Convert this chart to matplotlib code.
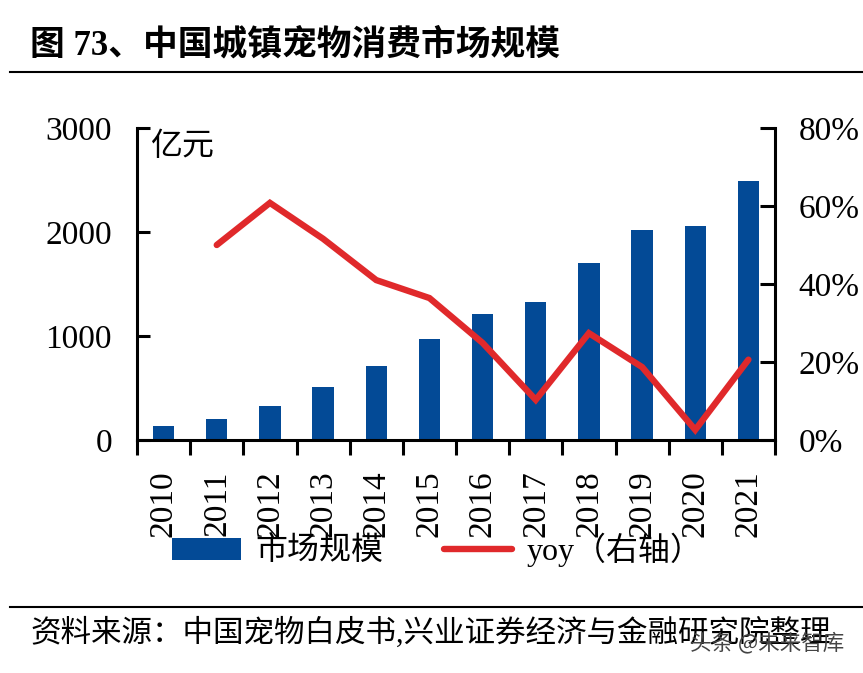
import matplotlib
matplotlib.use("Agg")
import matplotlib.pyplot as plt
from matplotlib.ticker import FuncFormatter, FixedLocator

years = ["2010", "2011", "2012", "2013", "2014", "2015",
         "2016", "2017", "2018", "2019", "2020", "2021"]
market = [135, 205, 327, 505, 712, 971, 1212, 1330, 1702, 2019, 2058, 2490]
yoy = [None, 50.0, 60.8, 51.6, 41.0, 36.4, 24.9, 10.3, 27.4, 18.7, 2.6, 20.6]

left_ticks = [0, 1000, 2000, 3000]
right_ticks = [0, 20, 40, 60, 80]

title = "图 73、中国城镇宠物消费市场规模"
source = "资料来源：中国宠物白皮书,兴业证券经济与金融研究院整理"
unit = "亿元"
bar_label = "市场规模"
line_label = "yoy（右轴）"
watermark = "头条 @未来智库"

MIX = ["Liberation Serif", "Noto Sans CJK SC"]
CJK = ["Noto Sans CJK SC", "DejaVu Sans"]
plt.rcParams["font.family"] = MIX

BLUE = "#034A96"
RED = "#E0292B"

fig = plt.figure(figsize=(8.63, 6.73), dpi=100)
ax = fig.add_axes([137 / 863, 1 - 440 / 673, (775 - 137) / 863, (440 - 128) / 673])
ax2 = ax.twinx()

x = list(range(len(years)))
bars = ax.bar(x, market, width=0.4, color=BLUE, label=bar_label, zorder=2)
xs = [xi for xi, v in zip(x, yoy) if v is not None]
ys = [v for v in yoy if v is not None]
line, = ax2.plot(xs, ys, color=RED, lw=4.6, solid_capstyle="round",
                 solid_joinstyle="miter", label=line_label)

ax.set_xlim(-0.5, len(years) - 0.5)
ax.set_ylim(0, 3000)
ax2.set_ylim(0, 80)

for a in (ax, ax2):
    a.spines["top"].set_visible(False)
    for s in ("left", "right", "bottom"):
        a.spines[s].set_linewidth(2.2)
ax.spines["right"].set_visible(False)
ax2.spines["left"].set_visible(False)
ax2.spines["bottom"].set_visible(False)

ax.set_yticks(left_ticks)
ax.set_yticklabels([str(t) for t in left_ticks])
ax.tick_params(axis="y", direction="in", length=9, width=2.2, pad=18,
               labelsize=24)
ax2.set_yticks(right_ticks)
ax2.yaxis.set_major_formatter(FuncFormatter(lambda v, p: f"{int(v)}%"))
ax2.tick_params(axis="y", direction="in", length=11, width=2.2, pad=17,
                labelsize=24)

ax.set_xticks(x)
ax.set_xticklabels(years, rotation=90, fontsize=24)
ax.tick_params(axis="x", which="major", length=0, pad=22)
ax.xaxis.set_minor_locator(FixedLocator([i - 0.5 for i in range(len(years) + 1)]))
ax.tick_params(axis="x", which="minor", direction="out", length=11, width=2.2)

for lab in ax.get_yticklabels() + ax2.get_yticklabels() + ax.get_xticklabels():
    lab.set_family("Liberation Serif")

fig.text(150 / 863, 1 - 146 / 673, unit, fontsize=23, family=CJK,
         va="center", ha="left")

leg = fig.legend([bars, line], [bar_label, line_label], loc="center left",
                 bbox_to_anchor=(172 / 863, 1 - 550 / 673), ncol=2,
                 frameon=False, handlelength=2.15, handleheight=0.7,
                 handletextpad=0.45, columnspacing=1.9, borderpad=0,
                 borderaxespad=0, prop={"family": MIX, "size": 23})

fig.text(30 / 863, 1 - 46 / 673, title, fontsize=25, fontweight="bold",
         family=MIX, va="center", ha="left")
fig.add_artist(plt.Line2D([10 / 863, 1], [1 - 72 / 673] * 2, color="black", lw=1.5))
fig.add_artist(plt.Line2D([10 / 863, 1], [1 - 607 / 673] * 2, color="black", lw=1.5))
fig.text(30 / 863, 1 - 633 / 673, source, fontsize=22, family=MIX,
         va="center", ha="left")
fig.text(690 / 863, 1 - 643 / 673, watermark, fontsize=15.5, family=CJK,
         color="#444444", va="center", ha="left")

fig.savefig("out.png", dpi=100)
